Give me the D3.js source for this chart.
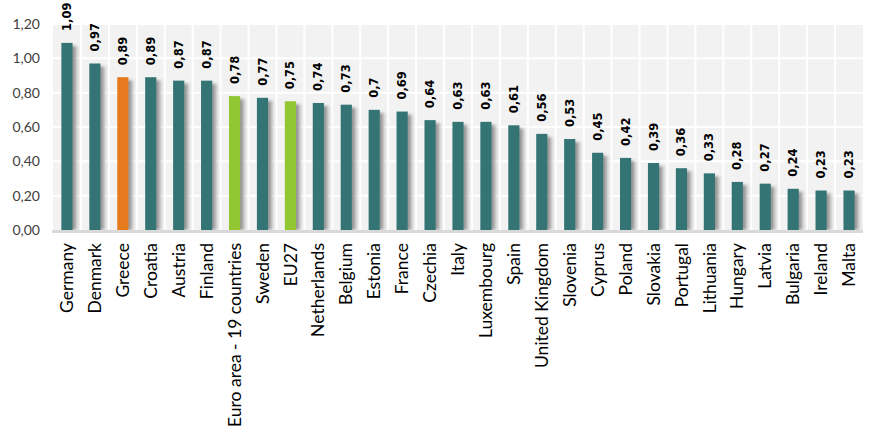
<!DOCTYPE html>
<html><head><meta charset="utf-8">
<script src="https://cdn.jsdelivr.net/npm/d3@7"></script>
<style>body{margin:0;background:#fff;} svg{display:block;}</style>
</head><body><svg id="c" width="886" height="443"></svg>
<script>
const categories = ["Germany","Denmark","Greece","Croatia","Austria","Finland","Euro area - 19 countries","Sweden","EU27","Netherlands","Belgium","Estonia","France","Czechia","Italy","Luxembourg","Spain","United Kingdom","Slovenia","Cyprus","Poland","Slovakia","Portugal","Lithuania","Hungary","Latvia","Bulgaria","Ireland","Malta"];
const values = [1.09,0.97,0.89,0.89,0.87,0.87,0.78,0.77,0.75,0.74,0.73,0.70,0.69,0.64,0.63,0.63,0.61,0.56,0.53,0.45,0.42,0.39,0.36,0.33,0.28,0.27,0.24,0.23,0.23];
const valueLabels = ["1,09","0,97","0,89","0,89","0,87","0,87","0,78","0,77","0,75","0,74","0,73","0,7","0,69","0,64","0,63","0,63","0,61","0,56","0,53","0,45","0,42","0,39","0,36","0,33","0,28","0,27","0,24","0,23","0,23"];
const highlightOrange = ["Greece"];
const highlightGreen = ["Euro area - 19 countries","EU27"];
const yTicks = [0,0.2,0.4,0.6,0.8,1.0,1.2];

const svg = d3.select("#c");
const L = 53, R = 863, T = 24, B = 230;
const x = d3.scaleBand().domain(categories).range([L,R]).paddingInner(0.6).paddingOuter(0.3);
const xb = d3.scaleBand().domain(categories).range([L,R]);
const y = d3.scaleLinear().domain([0,1.2]).range([B,T]);

const defs = svg.append("defs");
const g = defs.append("linearGradient").attr("id","sh").attr("x1","0").attr("x2","1").attr("y1","0").attr("y2","0");
g.append("stop").attr("offset","0").attr("stop-color","#707070").attr("stop-opacity",1);
g.append("stop").attr("offset","0.45").attr("stop-color","#a0a0a0").attr("stop-opacity",0.75);
g.append("stop").attr("offset","1").attr("stop-color","#f2f2f2").attr("stop-opacity",0);
const f = defs.append("filter").attr("id","bl").attr("x","-50%").attr("y","-10%").attr("width","200%").attr("height","120%");
f.append("feGaussianBlur").attr("stdDeviation","0.8 1.5");

svg.append("rect").attr("x",L).attr("y",T).attr("width",R-L).attr("height",B-T).attr("fill","#f2f2f2");

// horizontal grid
svg.append("g").selectAll("line").data(yTicks.slice(1)).join("line")
  .attr("x1",L).attr("x2",R).attr("y1",d=>y(d)).attr("y2",d=>y(d))
  .attr("stroke","#fff").attr("stroke-width",2);
// vertical grid
svg.append("g").selectAll("line").data(categories.slice(1)).join("line")
  .attr("x1",d=>xb(d)).attr("x2",d=>xb(d)).attr("y1",T).attr("y2",B)
  .attr("stroke","#fff").attr("stroke-width",2);

const colorOf = c => highlightOrange.includes(c) ? "#e67a1e" : highlightGreen.includes(c) ? "#92c633" : "#347474";

// shadows
svg.append("g").attr("filter","url(#bl)").selectAll("rect").data(categories).join("rect")
  .attr("x",d=>x(d)+x.bandwidth()-1).attr("width",9)
  .attr("y",(d,i)=>y(values[i])+3).attr("height",(d,i)=>B-y(values[i])-3)
  .attr("fill","url(#sh)");
// bars
svg.append("g").selectAll("rect").data(categories).join("rect")
  .attr("x",d=>x(d)).attr("width",x.bandwidth())
  .attr("y",(d,i)=>y(values[i])).attr("height",(d,i)=>B-y(values[i]))
  .attr("fill",d=>colorOf(d));

// axis line
svg.append("line").attr("x1",L-1).attr("x2",R).attr("y1",B+1.5).attr("y2",B+1.5).attr("stroke","#d9d9d9").attr("stroke-width",3);

// y axis
const ya = d3.axisLeft(y).tickValues(yTicks).tickSize(0).tickPadding(13).tickFormat(d=>d3.format(".2f")(d).replace(".",","));
const yg = svg.append("g").attr("transform",`translate(${L},0)`).call(ya);
yg.select(".domain").remove();
yg.selectAll("text").attr("font-family","Lato").attr("font-size",14).attr("fill","#404040");

// value labels
svg.append("g").selectAll("text").data(categories).join("text")
  .attr("transform",(d,i)=>`translate(${x(d)+x.bandwidth()/2},${y(values[i])-12}) rotate(-90)`)
  .attr("dy","0.35em").attr("text-anchor","start")
  .attr("font-family","DejaVu Sans").attr("font-weight","bold").attr("font-size",11.5).attr("fill","#000")
  .text((d,i)=>valueLabels[i]);

// category labels
svg.append("g").selectAll("text").data(categories).join("text")
  .attr("transform",d=>`translate(${x(d)+x.bandwidth()/2},${B+13}) rotate(-90)`)
  .attr("dy","0.35em").attr("text-anchor","end")
  .attr("font-family","Lato").attr("font-size",17.5).attr("fill","#000")
  .text(d=>d);
</script></body></html>
